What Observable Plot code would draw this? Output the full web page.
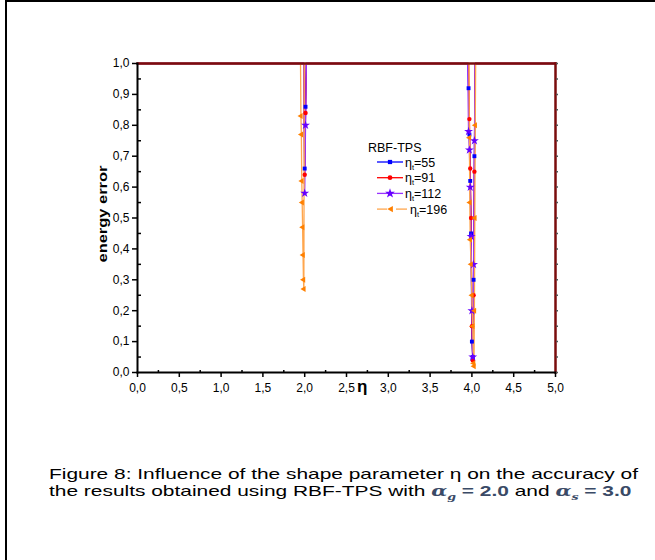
<!DOCTYPE html>
<html><head><meta charset="utf-8">
<script src="https://cdn.jsdelivr.net/npm/d3@7"></script>
<script src="https://cdn.jsdelivr.net/npm/@observablehq/plot@0.6"></script>
<style>
body{margin:0;background:#fff;font-family:"Liberation Sans",Arial,sans-serif;}
#page{position:relative;width:655px;height:560px;overflow:hidden;background:#fff;}
#border{position:absolute;left:5px;top:0;width:670px;height:580px;border-left:2px solid #000;border-top:2px solid #000;}
#chart{position:absolute;left:0;top:0;}
#ylab{position:absolute;left:103px;top:214px;font-weight:bold;font-size:12.5px;white-space:nowrap;transform-origin:0 0;}
#xlab{position:absolute;left:357px;top:377px;font-weight:bold;font-size:17px;}
#legend{position:absolute;left:360px;top:139px;}
#caption{position:absolute;left:49px;top:465px;font-size:15px;line-height:17px;color:#000;white-space:nowrap;}
#caption div{transform-origin:0 50%;}
.m{font-family:"DejaVu Serif",serif;font-style:italic;font-weight:bold;color:#3a4a66;}
.n{font-weight:bold;color:#3a4a66;}
</style></head>
<body><div id="page"><div id="border"></div><div id="chart"></div>
<div id="ylab">energy error</div><div id="xlab">η</div><div id="legend"></div>
<div id="caption"><div id="cap1">Figure 8: Influence of the shape parameter η on the accuracy of</div><div id="cap2">the results obtained using RBF-TPS with <span class="m">α<sub style="font-size:9px">g</sub></span> <span class="n">= 2.0</span> and <span class="m">α<sub style="font-size:9px">s</sub></span> <span class="n">= 3.0</span></div></div>
</div>
<script>
// Series data (shape parameter eta vs energy error)
const eta55  = [0, 1.0, 1.99, 2.0, 2.01, 2.02, 3.0, 3.95, 3.96, 3.97, 3.98, 3.99, 4.0, 4.01, 4.02, 4.03, 4.04, 5.0];
const err55  = [1, 1, 1, 0.66, 0.86, 1, 1, 1, 0.92, 0.77, 0.62, 0.45, 0.1, 0.05, 0.3, 0.7, 1, 1];
const eta91  = [0, 1.0, 1.99, 2.0, 2.01, 2.02, 3.0, 3.96, 3.97, 3.98, 3.99, 4.0, 4.01, 4.02, 4.03, 4.04, 5.0];
const err91  = [1, 1, 1, 0.64, 0.84, 1, 1, 1, 0.82, 0.66, 0.5, 0.15, 0.04, 0.25, 0.65, 1, 1];
const eta112 = [0, 1.0, 1.99, 2.0, 2.01, 2.02, 3.0, 3.95, 3.96, 3.97, 3.98, 3.99, 4.0, 4.01, 4.02, 4.03, 4.04, 5.0];
const err112 = [1, 1, 1, 0.58, 0.8, 1, 1, 1, 0.78, 0.72, 0.6, 0.44, 0.2, 0.05, 0.35, 0.75, 1, 1];
const eta196 = [0, 1.0, 1.95, 1.955, 1.96, 1.965, 1.97, 1.975, 1.98, 1.985, 1.99, 1.995, 3.0, 3.965, 3.97, 3.975, 3.98, 3.99, 4.0, 4.01, 4.02, 4.025, 4.03, 4.035, 4.04, 4.045, 5.0];
const err196 = [1, 1, 1, 0.83, 0.77, 0.62, 0.55, 0.47, 0.38, 0.3, 0.27, 1, 1, 1, 0.76, 0.55, 0.43, 0.35, 0.25, 0.15, 0.03, 0.02, 0.2, 0.5, 0.8, 1, 1];

const seriesNames = ["55", "91", "112", "196"];
const lineColors = ["#0000ff", "#ff0000", "#9933ff", "#ffa64d"];
const markColors = ["#0000ff", "#ff0000", "#6600ff", "#ff8000"];
const symbols = ["square", "circle", "star", "triangle"];
const rotations = [0, 0, 0, -90];

const xMajor = [0, 0.5, 1, 1.5, 2, 2.5, 3, 3.5, 4, 4.5, 5];
const xMinor = [0.25, 0.75, 1.25, 1.75, 2.25, 2.75, 3.25, 3.75, 4.25, 4.75];
const yMajor = [0, 0.1, 0.2, 0.3, 0.4, 0.5, 0.6, 0.7, 0.8, 0.9, 1.0];
const yMinor = [0.05, 0.15, 0.25, 0.35, 0.45, 0.55, 0.65, 0.75, 0.85, 0.95];

const etas = [eta55, eta91, eta112, eta196];
const errs = [err55, err91, err112, err196];
const series = seriesNames.map((n, i) => etas[i].map((e, j) => ({eta: e, err: errs[i][j], s: n})));

const fmt = d => d.toFixed(1).replace(".", ",");
const blank = () => "";

const marks = [];
series.forEach((data, i) => {
  marks.push(Plot.line(data, {x: "eta", y: "err", stroke: lineColors[i], strokeWidth: 1.3}));
});
series.forEach((data, i) => {
  marks.push(Plot.dot(data.filter(d => d.err < 1), {x: "eta", y: "err", symbol: symbols[i], fill: markColors[i], stroke: "none", r: i === 2 ? 2.8 : 2.2, rotate: rotations[i]}));
});
marks.push(
  Plot.frame({anchor: "top", stroke: "#7a0c0c", strokeWidth: 2.5}),
  Plot.frame({anchor: "right", stroke: "#7a0c0c", strokeWidth: 2.5}),
  Plot.frame({anchor: "bottom", stroke: "#000", strokeWidth: 2}),
  Plot.frame({anchor: "left", stroke: "#000", strokeWidth: 2}),
  Plot.axisX({ticks: xMajor, tickSize: 5, tickPadding: 6, tickFormat: fmt, label: null, strokeWidth: 1.5}),
  Plot.axisX({ticks: xMinor, anchor: "top", frameAnchor: "bottom", tickSize: 3, tickFormat: blank, label: null, strokeWidth: 1.5}),
  Plot.axisY({ticks: yMajor, tickSize: 5, tickPadding: 3, tickFormat: fmt, label: null, strokeWidth: 1.5}),
  Plot.axisY({ticks: yMinor, anchor: "right", frameAnchor: "left", tickSize: 3, tickFormat: blank, label: null, strokeWidth: 1.5}),
  Plot.axisY({ticks: yMajor.concat(yMinor), anchor: "right", tickSize: 2, tickFormat: blank, label: null, stroke: "#555", strokeWidth: 1.5})
);

const chart = Plot.plot({
  width: 655, height: 420,
  marginLeft: 137, marginRight: 100, marginTop: 63, marginBottom: 48,
  x: {domain: [0, 5]},
  y: {domain: [0, 1]},
  style: {fontFamily: "'Liberation Sans', Arial, sans-serif", fontSize: "12px", color: "#000", background: "transparent", overflow: "visible"},
  marks
});
document.getElementById("chart").appendChild(chart);

// Legend
const leg = d3.select("#legend").append("svg").attr("width", 130).attr("height", 82)
  .style("font-family", "'Liberation Sans', Arial, sans-serif").style("font-size", "12.5px");
leg.append("text").attr("x", 8).attr("y", 13).text("RBF-TPS");
const symMap = {square: d3.symbolSquare, circle: d3.symbolCircle, star: d3.symbolStar, triangle: d3.symbolTriangle};
seriesNames.forEach((n, i) => {
  const y = 23 + i * 15.7;
  const g = leg.append("g").attr("transform", `translate(0,${y})`);
  if (i === 3) {
    g.append("line").attr("x1", 17).attr("x2", 27).attr("y1", 0).attr("y2", 0).attr("stroke", lineColors[i]).attr("stroke-width", 1.3);
    g.append("line").attr("x1", 36).attr("x2", 47).attr("y1", 0).attr("y2", 0).attr("stroke", lineColors[i]).attr("stroke-width", 1.3);
  } else {
    g.append("line").attr("x1", 17).attr("x2", 43).attr("y1", 0).attr("y2", 0).attr("stroke", lineColors[i]).attr("stroke-width", 1.3);
  }
  g.append("path").attr("d", d3.symbol(symMap[symbols[i]], i === 2 ? 30 : 18)())
    .attr("transform", `translate(${i === 3 ? 31 : 30},0) rotate(${rotations[i]})`).attr("fill", markColors[i]);
  const t = g.append("text").attr("x", i === 3 ? 50 : 45).attr("y", 4.5);
  t.append("tspan").text("η");
  t.append("tspan").attr("dy", 3).attr("font-size", "7.5px").text("t");
  t.append("tspan").attr("dy", -3).text("=" + n);
});

// Horizontal stretch of caption lines to match the figure's proportions
const c1 = document.getElementById("cap1"), c2 = document.getElementById("cap2");
const range = document.createRange(); range.selectNodeContents(c1);
const tw1 = range.getBoundingClientRect().width;
const sx = 589 / tw1;
c1.style.transform = `scaleX(${sx})`;
c2.style.transform = `scaleX(${sx})`;

// y label: rotate and stretch to target length
const yl = document.getElementById("ylab");
const r2 = document.createRange(); r2.selectNodeContents(yl);
const lw = r2.getBoundingClientRect().width, lh = r2.getBoundingClientRect().height;
const ls = 97 / lw;
yl.style.transform = `translate(${-lh / 2}px, ${lw * ls / 2}px) rotate(-90deg) scaleX(${ls})`;
</script>
</body></html>
